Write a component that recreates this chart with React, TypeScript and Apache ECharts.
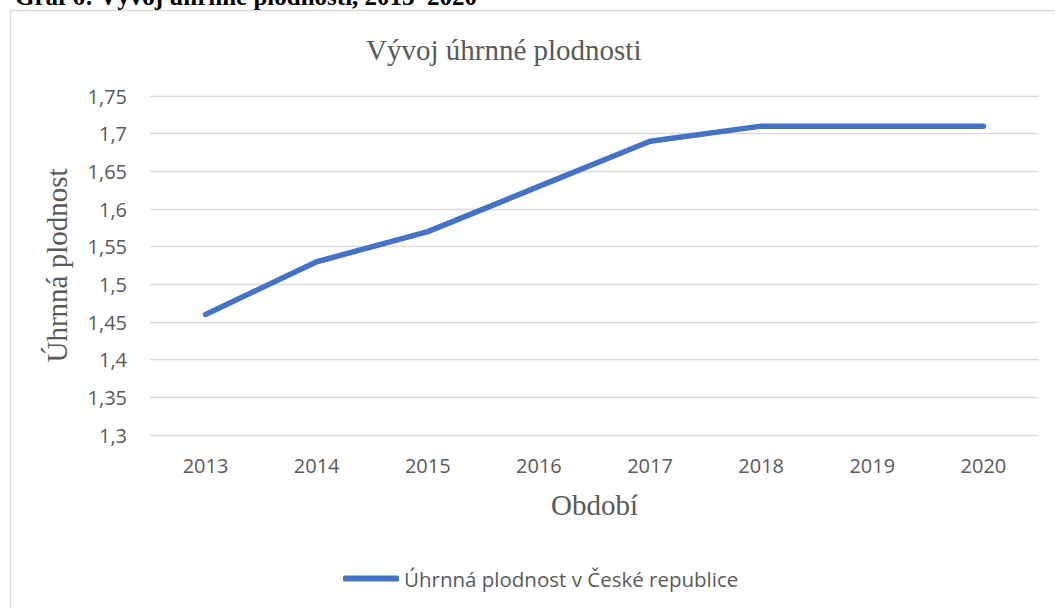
import React, { useEffect, useRef } from "react";
import * as echarts from "echarts";

const years = ["2013", "2014", "2015", "2016", "2017", "2018", "2019", "2020"];
const fertility = [1.46, 1.53, 1.57, 1.63, 1.69, 1.71, 1.71, 1.71];
const seriesName = "Úhrnná plodnost v České republice";
const chartTitle = "Vývoj úhrnné plodnosti";
const heading = "Graf 6: Vývoj úhrnné plodnosti, 2013–2020";
const yName = "Úhrnná plodnost";
const xName = "Období";

const SERIF = "'Liberation Serif', 'Times New Roman', serif";
const SANS = "'Open Sans', 'Noto Sans', sans-serif";
const GRAY = "#595959";
const BLUE = "#4472C4";

export default function App() {
  const ref = useRef<HTMLDivElement>(null);
  useEffect(() => {
    document.body.style.margin = "0";
    const chart = echarts.init(ref.current!, null, { renderer: "svg" });
    chart.setOption({
      animation: false,
      backgroundColor: "#ffffff",
      title: {
        text: chartTitle,
        left: 361,
        top: 30,
        textStyle: { fontFamily: SERIF, fontSize: 29, fontWeight: "normal", color: GRAY },
      },
      graphic: [
        {
          type: "rect",
          shape: { x: 10.5, y: 10.5, width: 1200, height: 800 },
          style: { fill: "none", stroke: "#d9d9d9", lineWidth: 1.5 },
          silent: true,
        },
        {
          type: "text",
          x: 15,
          y: -16,
          style: {
            text: heading,
            font: `bold 25px ${SERIF}`,
            fill: "#000000",
            verticalAlign: "top",
          },
        },
      ],
      legend: {
        left: 343,
        top: 568,
        padding: 0,
        itemWidth: 56,
        itemHeight: 6,
        icon: "roundRect",
        itemGap: 10,
        textStyle: { fontFamily: SANS, fontSize: 20.5, color: GRAY },
        data: [seriesName],
      },
      grid: { left: 150, right: 16, top: 96, bottom: 173, containLabel: false },
      xAxis: {
        type: "category",
        data: years,
        boundaryGap: true,
        axisLine: { show: false },
        axisTick: { show: false },
        axisLabel: { fontFamily: SANS, fontSize: 20, color: GRAY, margin: 20 },
        name: xName,
        nameLocation: "middle",
        nameGap: 55,
        nameTextStyle: { fontFamily: SERIF, fontSize: 29, color: GRAY },
      },
      yAxis: {
        type: "value",
        min: 1.3,
        max: 1.75,
        interval: 0.05,
        axisLine: { show: false },
        axisTick: { show: false },
        splitLine: { lineStyle: { color: "#d9d9d9", width: 1.3 } },
        axisLabel: {
          fontFamily: SANS,
          fontSize: 20,
          color: GRAY,
          margin: 23,
          formatter: (v: number) => String(parseFloat(v.toFixed(2))).replace(".", ","),
        },
        name: yName,
        nameLocation: "middle",
        nameGap: 79,
        nameTextStyle: { fontFamily: SERIF, fontSize: 29, color: GRAY },
      },
      series: [
        {
          name: seriesName,
          type: "line",
          data: fertility,
          symbol: "none",
          lineStyle: { color: BLUE, width: 5.5, cap: "round", join: "round" },
          itemStyle: { color: BLUE },
        },
      ],
    });
    return () => chart.dispose();
  }, []);
  return (
    <div
      ref={ref}
      style={{ position: "absolute", left: 0, top: 0, width: 1055, height: 608, background: "#fff" }}
    />
  );
}
